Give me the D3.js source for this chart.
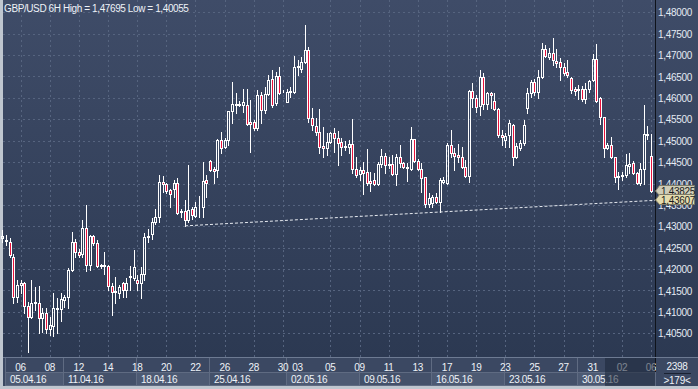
<!DOCTYPE html>
<html>
<head>
<meta charset="utf-8">
<script src="https://cdn.jsdelivr.net/npm/d3@7"></script>
<style>
html, body { margin: 0; padding: 0; background: #bfc6cf; }
svg { display: block; font-family: "Liberation Sans", Arial, sans-serif; }
</style>
</head>
<body>
<div id="chart"></div>
<script>
// GBP/USD 6H candles, 05.04.16 - 06.06.16
var opens = [1.4273,1.4266,1.4263,1.4228,1.4135,1.4163,1.4168,1.4114,1.4088,1.4121,
  1.4121,1.4086,1.4098,1.4060,1.4067,1.4109,1.4107,1.4128,1.4135,1.4198,
  1.4263,1.4240,1.4235,1.4296,1.4210,1.4277,1.4261,1.4207,1.4210,1.4207,
  1.4161,1.4147,1.4144,1.4168,1.4151,1.4182,1.4179,1.4175,1.4168,1.4189,
  1.4275,1.4282,1.4310,1.4322,1.4404,1.4399,1.4385,1.4387,1.4401,1.4336,
  1.4336,1.4315,1.4341,1.4324,1.4344,1.4345,1.4408,1.4453,1.4434,1.4432,
  1.4502,1.4485,1.4502,1.4569,1.4586,1.4586,1.4583,1.4583,1.4544,1.4544,
  1.4530,1.4607,1.4572,1.4609,1.4644,1.4588,1.4651,1.4616,1.4590,1.4614,
  1.4614,1.4672,1.4668,1.4684,1.4712,1.4553,1.4534,1.4520,1.4488,1.4483,
  1.4497,1.4518,1.4506,1.4497,1.4488,1.4485,1.4492,1.4434,1.4422,1.4432,
  1.4427,1.4406,1.4408,1.4399,1.4446,1.4464,1.4446,1.4446,1.4422,1.4462,
  1.4448,1.4439,1.4434,1.4504,1.4453,1.4434,1.4415,1.4352,1.4355,1.4369,
  1.4357,1.4404,1.4401,1.4490,1.4471,1.4467,1.4462,1.4439,1.4418,1.4616,
  1.4600,1.4581,1.4649,1.4586,1.4611,1.4593,1.4574,1.4513,1.4502,1.4513,
  1.4537,1.4462,1.4483,1.4495,1.4576,1.4611,1.4637,1.4614,1.4649,1.4714,
  1.4696,1.4705,1.4686,1.4684,1.4672,1.4660,1.4647,1.4621,1.4618,1.4621,
  1.4597,1.4621,1.4642,1.4691,1.4600,1.4555,1.4483,1.4490,1.4462,1.4415,
  1.4418,1.4420,1.4441,1.4448,1.4425,1.4401,1.4434,1.4513,1.4464];

var highs = [1.4291,1.4280,1.4273,1.4235,1.4175,1.4175,1.4170,1.4123,1.4175,1.4158,
  1.4161,1.4109,1.4109,1.4088,1.4144,1.4133,1.4144,1.4140,1.4203,1.4287,
  1.4270,1.4247,1.4315,1.4350,1.4280,1.4280,1.4268,1.4212,1.4240,1.4210,
  1.4168,1.4182,1.4163,1.4170,1.4179,1.4207,1.4245,1.4186,1.4205,1.4284,
  1.4294,1.4319,1.4341,1.4420,1.4418,1.4401,1.4387,1.4408,1.4413,1.4341,
  1.4362,1.4443,1.4345,1.4357,1.4371,1.4450,1.4420,1.4455,1.4439,1.4503,
  1.4520,1.4506,1.4570,1.4637,1.4611,1.4593,1.4621,1.4621,1.4595,1.4548,
  1.4618,1.4614,1.4625,1.4653,1.4665,1.4660,1.4672,1.4618,1.4621,1.4625,
  1.4698,1.4689,1.4696,1.47695,1.4719,1.4576,1.4553,1.4574,1.4532,1.4518,
  1.4520,1.4530,1.4523,1.4506,1.4499,1.4502,1.4551,1.4462,1.4439,1.4450,
  1.4481,1.4427,1.4425,1.4450,1.4481,1.4471,1.4462,1.4467,1.4469,1.4490,
  1.4450,1.4448,1.4532,1.4505,1.4457,1.4448,1.4416,1.4378,1.4373,1.4378,
  1.4413,1.4415,1.4495,1.4525,1.4483,1.4492,1.4485,1.4455,1.4618,1.4635,
  1.4607,1.4665,1.4658,1.4614,1.4614,1.4611,1.4576,1.4525,1.4518,1.4548,
  1.4539,1.4495,1.4502,1.4548,1.4623,1.4642,1.4644,1.4665,1.4728,1.4724,
  1.4717,1.4740,1.4714,1.4693,1.4682,1.4689,1.4649,1.4625,1.4630,1.4628,
  1.4635,1.4642,1.4703,1.4726,1.4602,1.4556,1.4495,1.4509,1.4463,1.4427,
  1.4427,1.4469,1.4471,1.4453,1.4427,1.4448,1.4583,1.4534,1.4516];

var lows = [1.4263,1.4256,1.4228,1.4121,1.4123,1.4144,1.4098,1.40055,1.4086,1.4105,
  1.4051,1.4053,1.4051,1.4046,1.4044,1.4051,1.4079,1.4112,1.4109,1.4196,
  1.4228,1.4228,1.4228,1.4196,1.4198,1.4256,1.4205,1.4203,1.4189,1.4151,
  1.4093,1.4121,1.4133,1.4135,1.4135,1.4151,1.4175,1.4151,1.4133,1.4175,
  1.4263,1.4270,1.4306,1.4310,1.4380,1.4378,1.4345,1.4369,1.4329,1.4322,
  1.4301,1.4310,1.4317,1.4322,1.4322,1.4322,1.4369,1.4429,1.4401,1.4415,
  1.4471,1.4483,1.4490,1.4541,1.4565,1.4581,1.4567,1.4537,1.4474,1.4525,
  1.4525,1.4541,1.4565,1.4607,1.4579,1.4583,1.4609,1.4614,1.4590,1.4602,
  1.4611,1.4653,1.4660,1.4682,1.4544,1.4525,1.4513,1.4471,1.4462,1.4467,
  1.4495,1.4474,1.4443,1.4467,1.4478,1.4471,1.4425,1.4415,1.4408,1.4376,
  1.4397,1.4383,1.4397,1.4397,1.4439,1.4425,1.4436,1.4420,1.4397,1.4439,
  1.4436,1.4406,1.4432,1.4450,1.4432,1.4380,1.4344,1.4345,1.4344,1.4355,
  1.4333,1.4401,1.4399,1.4462,1.4432,1.4450,1.4436,1.4415,1.4404,1.4579,
  1.4567,1.4560,1.4574,1.4574,1.4576,1.4572,1.4509,1.4490,1.4485,1.4485,
  1.4443,1.4460,1.4478,1.4490,1.4565,1.4602,1.4607,1.4600,1.4647,1.4696,
  1.4691,1.4677,1.4672,1.4642,1.4653,1.4649,1.4611,1.4607,1.4597,1.4593,
  1.4588,1.4614,1.4640,1.4590,1.4539,1.4462,1.4481,1.4460,1.4404,1.4387,
  1.4408,1.4415,1.4425,1.4422,1.4399,1.4397,1.4399,1.4504,1.4380];

var closes = [1.4277,1.4268,1.4233,1.4135,1.4163,1.4168,1.4114,1.4088,1.4121,1.4123,
  1.4086,1.4098,1.4060,1.4070,1.4109,1.4107,1.4130,1.4135,1.4198,1.4263,
  1.4240,1.4233,1.4296,1.4210,1.4277,1.4261,1.4207,1.4210,1.4207,1.4161,
  1.4147,1.4149,1.4158,1.4151,1.4168,1.4184,1.4205,1.4168,1.4189,1.4275,
  1.4277,1.4310,1.4322,1.4404,1.4399,1.4383,1.4376,1.4401,1.4331,1.4333,
  1.4315,1.4338,1.4326,1.4345,1.4345,1.4406,1.4401,1.4432,1.4429,1.4502,
  1.4483,1.4502,1.4569,1.4586,1.4583,1.4583,1.4590,1.4539,1.4539,1.4530,
  1.4607,1.4572,1.4609,1.4642,1.4583,1.4651,1.4611,1.4616,1.4614,1.4616,
  1.4672,1.4675,1.4684,1.4712,1.4553,1.4537,1.4520,1.4485,1.4483,1.4497,
  1.4518,1.4506,1.4495,1.4485,1.4485,1.4492,1.4434,1.4420,1.4432,1.4425,
  1.4401,1.4401,1.4399,1.4446,1.4464,1.4443,1.4443,1.4422,1.4462,1.4448,
  1.4439,1.4436,1.4504,1.4453,1.4434,1.4413,1.4352,1.4366,1.4369,1.4357,
  1.4408,1.4408,1.4490,1.4471,1.4464,1.4462,1.4439,1.4418,1.4616,1.4600,
  1.4579,1.4649,1.4586,1.4611,1.4607,1.4574,1.4513,1.4509,1.4511,1.4541,
  1.4462,1.4488,1.4495,1.4537,1.4611,1.4637,1.4614,1.4649,1.4714,1.4698,
  1.4705,1.4689,1.4682,1.4672,1.4658,1.4653,1.4618,1.4616,1.4621,1.4597,
  1.4621,1.4640,1.4691,1.4593,1.4555,1.4483,1.4490,1.4462,1.4415,1.4418,
  1.4420,1.4443,1.4446,1.4425,1.4401,1.4434,1.4516,1.4516,1.43825];

// bottom axis: candle index where each labelled day starts
var dayTicks = [5,13,21,29,37,45,53,61,69,77,81,90,98,106,114,122,130,138,146,154,162,170,178];
var dayLabels = ["06","08","12","14","18","20","22","26","28","30","03","05","09","11","13","17","19","23","25","27","31","02","06"];
var weekStarts = [1,17,37,57,78,98,118,138,158];
var weekLabels = ["05.04.16","11.04.16","18.04.16","25.04.16","02.05.16","09.05.16","16.05.16","23.05.16","30.05.16"];

var priceTicks = [1.405,1.41,1.415,1.42,1.425,1.43,1.435,1.44,1.445,1.45,1.455,1.46,1.465,1.47,1.475,1.48];

// support line: from the low of candle 50 up to the right edge
var trendStart = [50, 1.4301];
var trendEnd = 1.43607;
var lastPrice = 1.43825;

var W = 698, H = 389;
var plotL = 3, plotR = 655, plotB = 357, frameB = 386;

var candles = opens.map(function(o, i) {
  return {i: i, o: o, h: highs[i], l: lows[i], c: closes[i]};
});

var x = d3.scaleLinear().domain([0, 178]).range([2.8, 651.6]);
var y = d3.scaleLinear().domain([1.40, 1.48]).range([354.7, 12.3]);

var fmt = function(v) { return d3.format(".5f")(v).replace(".", ","); };

var svg = d3.select("#chart").append("svg")
  .attr("width", W)
  .attr("height", H);

var grad = svg.append("defs").append("linearGradient")
  .attr("id", "bg")
  .attr("gradientUnits", "userSpaceOnUse")
  .attr("x1", 0).attr("y1", 0).attr("x2", 0).attr("y2", plotB);
grad.append("stop").attr("offset", "0%").attr("stop-color", "#3f4c68");
grad.append("stop").attr("offset", "100%").attr("stop-color", "#2c3952");

// light outer frame + dark panels
svg.append("rect").attr("width", W).attr("height", H).attr("fill", "#bfc6cf");
svg.append("rect")
  .attr("x", plotL).attr("y", 0)
  .attr("width", W - plotL).attr("height", plotB)
  .attr("fill", "url(#bg)");
svg.append("rect")
  .attr("x", plotL).attr("y", plotB)
  .attr("width", W - plotL).attr("height", frameB - plotB)
  .attr("fill", "#3b4862");

// grid
var grid = svg.append("g")
  .attr("stroke", "#56647f")
  .attr("stroke-dasharray", "2,3")
  .attr("shape-rendering", "crispEdges");

grid.selectAll(".hg")
  .data(priceTicks)
  .enter().append("line")
  .attr("x1", plotL).attr("x2", plotR)
  .attr("y1", function(d) { return Math.round(y(d)) + 0.5; })
  .attr("y2", function(d) { return Math.round(y(d)) + 0.5; });

grid.selectAll(".vg")
  .data(dayTicks.filter(function(d, k) { return dayLabels[k] !== "03"; }))
  .enter().append("line")
  .attr("x1", function(d) { return Math.round(x(d) - 0.5) + 0.5; })
  .attr("x2", function(d) { return Math.round(x(d) - 0.5) + 0.5; })
  .attr("y1", 0).attr("y2", plotB);

// candles
var cg = svg.append("g").attr("shape-rendering", "crispEdges");

var candle = cg.selectAll("g")
  .data(candles)
  .enter().append("g");

candle.append("line")
  .attr("x1", function(d) { return Math.floor(x(d.i)) + 0.5; })
  .attr("x2", function(d) { return Math.floor(x(d.i)) + 0.5; })
  .attr("y1", function(d) { return Math.round(y(d.h)); })
  .attr("y2", function(d) { return Math.round(y(Math.max(d.o, d.c))); })
  .attr("stroke", "#ffffff");

candle.append("line")
  .attr("x1", function(d) { return Math.floor(x(d.i)) + 0.5; })
  .attr("x2", function(d) { return Math.floor(x(d.i)) + 0.5; })
  .attr("y1", function(d) { return Math.round(y(Math.min(d.o, d.c))); })
  .attr("y2", function(d) { return Math.round(y(d.l)) + 1; })
  .attr("stroke", "#ffffff");

candle.append("rect")
  .attr("x", function(d) { return Math.floor(x(d.i)) - 0.5; })
  .attr("y", function(d) { return Math.round(y(Math.max(d.o, d.c))) + 0.5; })
  .attr("width", 2)
  .attr("height", function(d) {
    return Math.round(y(Math.min(d.o, d.c))) - Math.round(y(Math.max(d.o, d.c)));
  })
  .attr("fill", function(d) { return d.c < d.o ? "#e8123c" : "none"; })
  .attr("stroke", "#ffffff");

// trend line
var xEdge = x.invert(plotR);
svg.append("line")
  .attr("x1", x(trendStart[0])).attr("y1", y(trendStart[1]))
  .attr("x2", x(xEdge)).attr("y2", y(trendEnd))
  .attr("stroke", "#e6eaf0")
  .attr("stroke-width", 1)
  .attr("stroke-dasharray", "3,2");

// right axis
svg.append("line")
  .attr("x1", plotR + 0.5).attr("x2", plotR + 0.5)
  .attr("y1", 0).attr("y2", frameB)
  .attr("stroke", "#0f131b");

svg.append("g").selectAll("text")
  .data(priceTicks)
  .enter().append("text")
  .attr("x", 658)
  .attr("y", function(d) { return y(d) + 4; })
  .attr("fill", "#e4eaf3")
  .attr("font-size", "10px")
  .attr("letter-spacing", "-0.3px")
  .text(fmt);

// price tags
var tags = [{v: lastPrice, fill: "#cfcdb8"}, {v: trendEnd, fill: "#e4dcae"}];
tags.forEach(function(t) {
  var cy = Math.round(y(t.v));
  svg.append("path")
    .attr("d", "M" + (plotR + 0.5) + "," + cy + " L" + (plotR + 4.5) + "," + (cy - 5.5) +
      " L694.5," + (cy - 5.5) + " L694.5," + (cy + 4.5) + " L" + (plotR + 4.5) + "," + (cy + 4.5) + " Z")
    .attr("fill", t.fill)
    .attr("stroke", "#7d7a66");
  svg.append("text")
    .attr("x", 661).attr("y", cy + 3.5)
    .attr("fill", "#1b1b1b")
    .attr("font-size", "10px")
    .attr("letter-spacing", "-0.3px")
    .text(fmt(t.v));
});

// bottom axis
svg.append("line")
  .attr("x1", plotL).attr("x2", W)
  .attr("y1", plotB + 0.5).attr("y2", plotB + 0.5)
  .attr("stroke", "#6d7a92");

var weeks = weekStarts.map(function(s, k) {
  var x0 = Math.round(x(s) - 1.5);
  var x1 = k < weekStarts.length - 1 ? Math.round(x(weekStarts[k + 1]) - 1.5) : plotR;
  return {x0: x0, x1: x1, label: weekLabels[k], k: k};
});

svg.append("g").selectAll("rect")
  .data(weeks)
  .enter().append("rect")
  .attr("x", function(d) { return d.x0 + 0.5; })
  .attr("y", 372.5)
  .attr("width", function(d) { return d.x1 - d.x0; })
  .attr("height", 13)
  .attr("fill", function(d) { return d.k % 2 ? "#44516a" : "#4d5a73"; })
  .attr("stroke", "#5f6b82")
  .attr("shape-rendering", "crispEdges");

svg.append("g").selectAll("line")
  .data(weeks)
  .enter().append("line")
  .attr("x1", function(d) { return d.x0 + 0.5; })
  .attr("x2", function(d) { return d.x0 + 0.5; })
  .attr("y1", plotB + 1).attr("y2", 386)
  .attr("stroke", "#5f6b82");

svg.append("g").selectAll("text")
  .data(weeks)
  .enter().append("text")
  .attr("x", function(d) { return d.x0 + 5; })
  .attr("y", 383)
  .attr("fill", "#eef2f7")
  .attr("font-size", "10px")
  .attr("letter-spacing", "-0.35px")
  .text(function(d) { return d.label; });

svg.append("g").selectAll("text")
  .data(dayTicks)
  .enter().append("text")
  .attr("x", function(d) { return x(d) - 0.5; })
  .attr("y", 371)
  .attr("text-anchor", "middle")
  .attr("fill", "#eef2f7")
  .attr("font-size", "10px")
  .attr("letter-spacing", "-0.3px")
  .text(function(d, k) { return dayLabels[k]; });

// shaded tail of the time axis
svg.append("rect")
  .attr("x", 605).attr("y", plotB + 1)
  .attr("width", plotR - 605).attr("height", frameB - plotB - 1)
  .attr("fill", "#1c2639")
  .attr("opacity", 0.55);

// corner box
svg.append("rect")
  .attr("x", plotR + 1).attr("y", plotB + 1)
  .attr("width", W - plotR - 1).attr("height", frameB - plotB - 1)
  .attr("fill", "#3b4862");
svg.append("text")
  .attr("x", 677).attr("y", 370)
  .attr("text-anchor", "middle")
  .attr("fill", "#eef2f7")
  .attr("font-size", "10px")
  .attr("letter-spacing", "-0.3px")
  .text("2398");
svg.append("line")
  .attr("x1", 664).attr("x2", 691)
  .attr("y1", 373.5).attr("y2", 373.5)
  .attr("stroke", "#1a2232");
svg.append("text")
  .attr("x", 677).attr("y", 384)
  .attr("text-anchor", "middle")
  .attr("fill", "#eef2f7")
  .attr("font-size", "10px")
  .attr("letter-spacing", "-0.3px")
  .text(">179<");

// title
svg.append("text")
  .attr("x", 4).attr("y", 12)
  .attr("fill", "#eef2f7")
  .attr("font-size", "10px")
  .attr("letter-spacing", "-0.4px")
  .text("GBP/USD 6H High = 1,47695 Low = 1,40055");
</script>
</body>
</html>
